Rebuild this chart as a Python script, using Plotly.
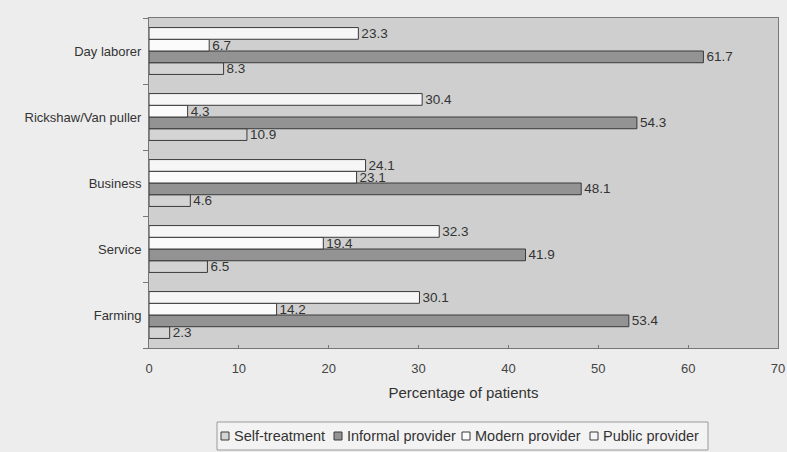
import plotly.graph_objects as go

categories = ["Day laborer", "Rickshaw/Van puller", "Business", "Service", "Farming"]
self_treatment = [8.3, 10.9, 4.6, 6.5, 2.3]
informal_provider = [61.7, 54.3, 48.1, 41.9, 53.4]
modern_provider = [6.7, 4.3, 23.1, 19.4, 14.2]
public_provider = [23.3, 30.4, 24.1, 32.3, 30.1]
x_ticks = [0, 10, 20, 30, 40, 50, 60, 70]

series = [
    ("Self-treatment", self_treatment, "#d4d4d4"),
    ("Informal provider", informal_provider, "#939393"),
    ("Modern provider", modern_provider, "#fbfbfb"),
    ("Public provider", public_provider, "#f6f6f6"),
]

FONT = "Liberation Sans, Arial, sans-serif"
W, H = 787, 452
ML, MR, MT, MB = 149, 9, 18, 104
PW, PH = W - ML - MR, H - MT - MB


def px_x(px):
    return (px - ML) / PW


def px_y(py):
    return (H - MB - py) / PH


fig = go.Figure()
for name, vals, col in series:
    fig.add_trace(go.Bar(
        name=name, y=categories, x=vals, orientation="h",
        marker=dict(color=col, line=dict(color="#3a3a3a", width=1)),
        text=[f"{v:.1f}" for v in vals], textposition="outside",
        constraintext="none",
        textfont=dict(family=FONT, size=13.5, color="#333333"),
        cliponaxis=False, showlegend=False,
    ))

# legend drawn as a framed row of swatches + labels below the axis title
shapes = [dict(type="rect", xref="paper", yref="paper",
               x0=px_x(217), x1=px_x(708), y0=px_y(450), y1=px_y(422),
               fillcolor="#f3f3f3", line=dict(color="#9a9a9a", width=1), layer="below")]
annotations = []
sym_x = [221, 334, 462, 590]
for (name, _, col), sx in zip(series, sym_x):
    shapes.append(dict(type="rect", xref="paper", yref="paper",
                       x0=px_x(sx), x1=px_x(sx + 8), y0=px_y(440), y1=px_y(432),
                       fillcolor=col, line=dict(color="#3a3a3a", width=1)))
    annotations.append(dict(xref="paper", yref="paper", x=px_x(sx + 11), y=px_y(436),
                            xanchor="left", yanchor="middle", showarrow=False,
                            text=name, font=dict(family=FONT, size=14.5, color="#333333")))

fig.update_layout(
    width=W, height=H,
    margin=dict(l=ML, r=MR, t=MT, b=MB),
    barmode="group", bargap=0.29, bargroupgap=0,
    paper_bgcolor="#ededed", plot_bgcolor="#cfcfcf",
    font=dict(family=FONT, size=14, color="#333333"),
    showlegend=False,
    shapes=shapes, annotations=annotations,
    xaxis=dict(
        range=[0, 70], tickvals=x_ticks, showgrid=False, zeroline=False,
        ticks="inside", ticklen=3, tickcolor="#777777",
        ticklabelstandoff=8,
        showline=True, linecolor="#777777", mirror=True,
        tickfont=dict(family=FONT, size=13, color="#444444"),
        title=dict(text="Percentage of patients", standoff=12,
                   font=dict(family=FONT, size=15, color="#333333")),
        automargin=False,
    ),
    yaxis=dict(
        categoryorder="array", categoryarray=list(reversed(categories)),
        tickson="boundaries", ticks="outside", ticklen=5, tickcolor="#777777",
        ticklabelstandoff=4,
        showgrid=False, showline=True, linecolor="#777777", mirror=True,
        tickfont=dict(family=FONT, size=13, color="#333333"),
        automargin=False,
    ),
)

fig.write_html(
    "out.html",
    config={"displayModeBar": False},
    post_script="document.body.style.margin='0';document.body.style.overflow='hidden';document.body.style.background='#ededed';",
)
